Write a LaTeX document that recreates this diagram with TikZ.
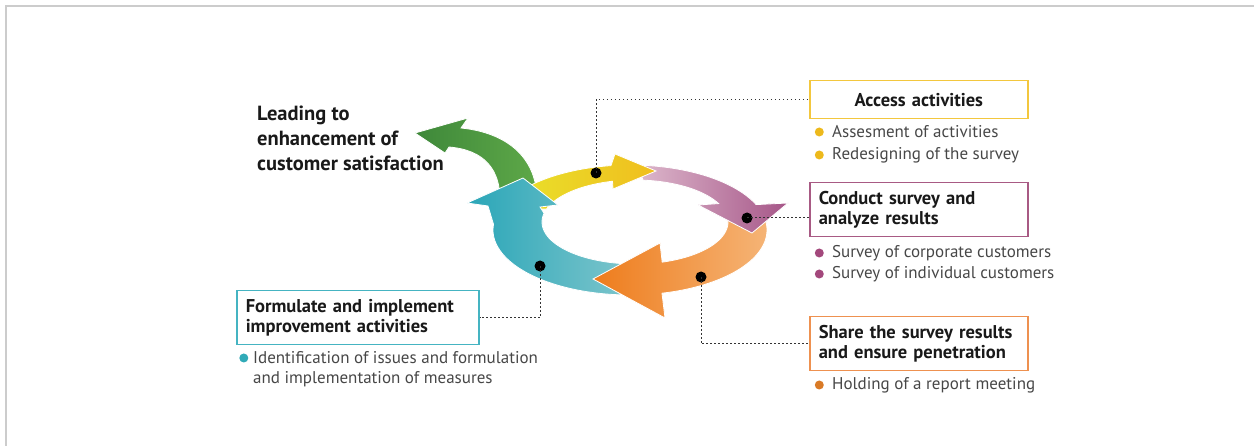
\documentclass[tikz,border=0pt]{standalone}
\usepackage{fontspec}
\setmainfont{PT Sans}
\usetikzlibrary{positioning}

\definecolor{framegray}{HTML}{CCCCCC}
\definecolor{accyellow}{HTML}{F3C73E}
\definecolor{accdot}{HTML}{EDB91C}
\definecolor{conpurple}{HTML}{A85A84}
\definecolor{condot}{HTML}{A3487C}
\definecolor{shaorange}{HTML}{EE9150}
\definecolor{shadot}{HTML}{D97A26}
\definecolor{forteal}{HTML}{45B4C2}
\definecolor{fordot}{HTML}{30AAB7}

% arrow outlines (pixel grid, y downwards)
\newcommand{\greenpath}{(537,200) .. controls (537,160) and (510,133) .. (461,128) -- (468,118) -- (415,133) -- (445,153) -- (449,147) .. controls (485,150) and (500,170) .. (500,200) -- cycle}
\newcommand{\yellowpath}{plot[domain=198:262] ({630+137*cos(\x)},{230+65*sin(\x)}) -- (615,154) -- (656,171) -- (613,189) -- plot[domain=256:198] ({635+93*cos(\x)},{222+42*sin(\x)}) -- cycle}
\newcommand{\purplepath}{plot[domain=273:337] ({630+137*cos(\x)},{230+65*sin(\x)}) -- (788,203) -- (752,233) -- (698,205) -- plot[domain=334:275] ({635+93*cos(\x)},{222+42*sin(\x)}) -- cycle}
\newcommand{\orangepath}{plot[domain=-16:76.5] ({630+137*cos(\x)},{230+65*sin(\x)}) -- (665,318) -- (593,279) -- (660,243) -- plot[domain=73:-14] ({635+93*cos(\x)},{222+42*sin(\x)}) -- cycle}
\newcommand{\tealpath}{plot[domain=94:185] ({630+137*cos(\x)},{230+65*sin(\x)}) -- (488,206) -- (467,203) -- (523,178) -- (558,205) -- (540,207) -- plot[domain=192:97] ({635+93*cos(\x)},{222+42*sin(\x)}) -- cycle}

\tikzset{
    every node/.style={inner sep=0pt},
    ring/.style={draw=white, line width=0.8pt, variable=\x, samples=40},
    ttl/.style={font=\bfseries\fontsize{20.5}{25}\selectfont, align=left, text=black!90},
    boxttl/.style={draw=#1, line width=1.5pt, font=\bfseries\fontsize{18.5}{20.5}\selectfont,
        text=black!90, anchor=north west, inner xsep=9pt, text width=200pt,
        minimum height=54pt, align=left},
    bul/.style 2 args={anchor=west, font=\fontsize{17}{21}\selectfont, text=black!72,
        label={[circle, fill=#1, minimum size=9pt, inner sep=0pt, label distance=#2]left:{}}},
    sub/.style={anchor=west, font=\fontsize{17}{21}\selectfont, text=black!72},
    blackdot/.style={circle, fill=black, minimum size=11pt},
    leader/.style={line width=1pt, black!80, dash pattern=on 1.6pt off 2.4pt}
}

\begin{document}
\begin{tikzpicture}[x=1pt, y=-1pt]
    \useasboundingbox (0,0) rectangle (1254,446);
    \draw[framegray, line width=2pt] (5.5,446) |- (1254,6.5);

    % the cycle
    \shade[ring, left color={rgb,255:red,62;green,136;blue,58}, right color={rgb,255:red,94;green,168;blue,72}] \greenpath;
    \shade[ring, left color={rgb,255:red,232;green,228;blue,44}, right color={rgb,255:red,240;green,190;blue,30}] \yellowpath;
    \shade[ring, left color={rgb,255:red,221;green,184;blue,204}, right color={rgb,255:red,166;green,86;blue,136}] \purplepath;
    \shade[ring, left color={rgb,255:red,238;green,124;blue,28}, right color={rgb,255:red,245;green,180;blue,118}] \orangepath;
    \shade[ring, left color={rgb,255:red,42;green,166;blue,184}, right color={rgb,255:red,122;green,196;blue,203}] \tealpath;

    % heads over the next tails
    \begin{scope}
        \clip (600,145) rectangle (665,195);
        \shade[ring, left color={rgb,255:red,232;green,228;blue,44}, right color={rgb,255:red,240;green,190;blue,30}] \yellowpath;
    \end{scope}
    \begin{scope}
        \clip (690,195) rectangle (795,240);
        \shade[ring, left color={rgb,255:red,221;green,184;blue,204}, right color={rgb,255:red,166;green,86;blue,136}] \purplepath;
    \end{scope}
    \begin{scope}
        \clip (585,235) rectangle (670,325);
        \shade[ring, left color={rgb,255:red,238;green,124;blue,28}, right color={rgb,255:red,245;green,180;blue,118}] \orangepath;
    \end{scope}

    \node[ttl, anchor=north west] (lead) at (257,106) {Leading to\\enhancement of\\customer satisfaction};

    % boxes
    \node[boxttl=accyellow, minimum height=38pt, align=center] (access) at (809,80) {Access activities};
    \node[boxttl=conpurple] (conduct) at (809,182) {Conduct survey and\\analyze results};
    \node[boxttl=shaorange] (share) at (809,316) {Share the survey results\\and ensure penetration};
    \node[boxttl=forteal, text width=224pt] (formulate) at (236,290) {Formulate and implement\\improvement activities};

    % bullet lists
    \node[bul={accdot}{8pt}] (acc1) at (832,132) {Assesment of activities};
    \node[bul={accdot}{8pt}] (acc2) at (832,155) {Redesigning of the survey};
    \node[bul={condot}{8pt}] (con1) at (832,253) {Survey of corporate customers};
    \node[bul={condot}{8pt}] (con2) at (832,274) {Survey of individual customers};
    \node[bul={shadot}{8pt}] (sha1) at (832,385) {Holding of a report meeting};
    \node[bul={fordot}{4.5pt}] (for1) at (253,358) {Identification of issues and formulation};
    \node[sub] (for2) at (253,379) {and implementation of measures};

    % markers and leaders
    \node[blackdot] (ydot) at (596,173) {};
    \node[blackdot] (pdot) at (747,218) {};
    \node[blackdot] (odot) at (701,277) {};
    \node[blackdot] (tdot) at (540,266) {};
    \draw[leader] (ydot.center) |- (access.west);
    \draw[leader] (pdot.center) -- (pdot -| conduct.west);
    \draw[leader] (odot.center) |- (share.west);
    \draw[leader] (tdot.center) |- (formulate.east);
\end{tikzpicture}
\end{document}
